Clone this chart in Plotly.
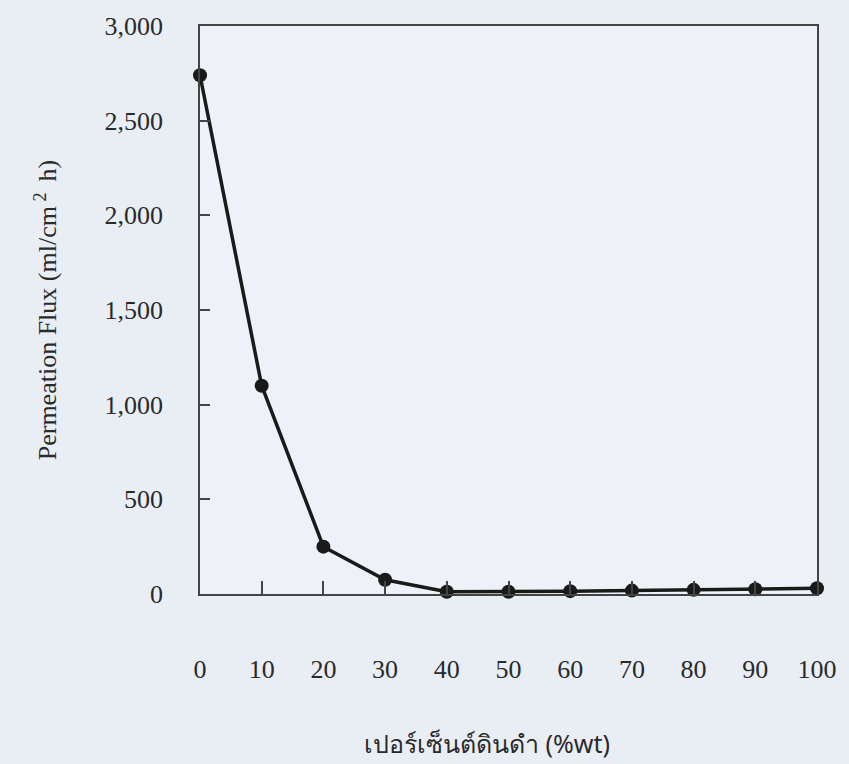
import plotly.graph_objects as go

x_percent = [0, 10, 20, 30, 40, 50, 60, 70, 80, 90, 100]
flux = [2740, 1100, 250, 75, 12, 12, 15, 18, 22, 25, 30]
y_ticks = [0, 500, 1000, 1500, 2000, 2500, 3000]
y_tick_text = ["0", "500", "1,000", "1,500", "2,000", "2,500", "3,000"]
x_title = "เปอร์เซ็นต์ดินดำ (%wt)"
y_title = "Permeation Flux (ml/cm<sup> 2 </sup> h)"

fig = go.Figure()
fig.add_trace(go.Scatter(
    x=x_percent, y=flux, mode="lines+markers",
    line=dict(color="#1a1a1a", width=3.5),
    marker=dict(symbol="circle", size=14, color="#1a1a1a"),
    cliponaxis=False, showlegend=False,
))

font_serif = "Liberation Serif, Times New Roman, serif"
fig.update_layout(
    width=849, height=764,
    paper_bgcolor="#e9eef5",
    plot_bgcolor="#eef2f8",
    margin=dict(l=200, r=26, t=18, b=170),
    font=dict(family=font_serif, color="#2a2a2a", size=26),
    xaxis=dict(
        range=[0, 100], tickvals=x_percent,
        ticks="inside", ticklen=13, tickwidth=1.5, tickcolor="#444",
        showline=True, linecolor="#444", linewidth=1.5, mirror=True,
        showgrid=False, zeroline=False,
        ticklabelstandoff=51,
        tickfont=dict(size=26, family=font_serif),
    ),
    yaxis=dict(
        range=[0, 3000], tickvals=y_ticks, ticktext=y_tick_text,
        ticks="inside", ticklen=10, tickwidth=1.5, tickcolor="#444",
        showline=True, linecolor="#444", linewidth=1.5, mirror=True,
        showgrid=False, zeroline=False,
        ticklabelstandoff=30,
        tickfont=dict(size=26, family=font_serif),
        title=dict(text=y_title, standoff=40,
                   font=dict(size=26, family=font_serif)),
    ),
    annotations=[dict(
        text=x_title, xref="paper", yref="paper",
        x=(490 - 200) / 623, y=-(745 - 594) / 576,
        xanchor="center", yanchor="middle", showarrow=False,
        font=dict(size=25, family="Noto Sans, DejaVu Sans, sans-serif", color="#2a2a2a"),
    )],
)

fig.write_html("out.html")
